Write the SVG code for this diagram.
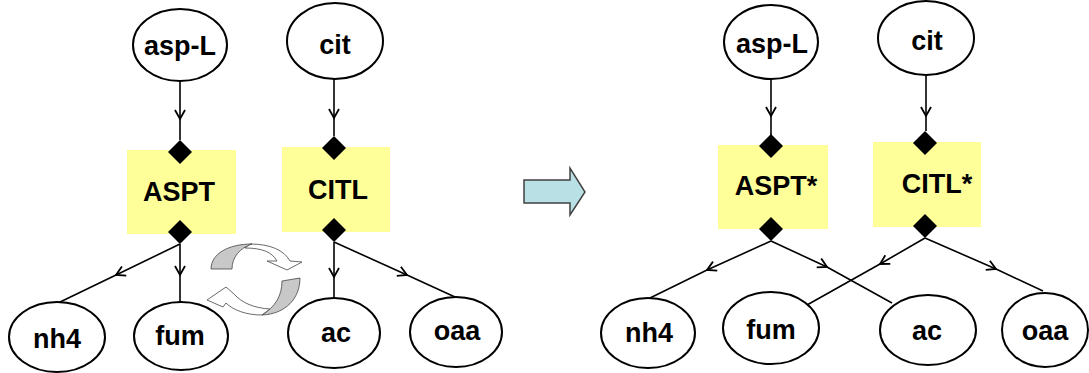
<svg xmlns="http://www.w3.org/2000/svg" width="1089" height="373" viewBox="0 0 1089 373">
<style>
.node ellipse{fill:#fff;stroke:#000;stroke-width:2}
.rx rect{fill:#ffff99;stroke:none}
.dia{fill:#000}
text{font-family:"Liberation Sans",Arial,sans-serif;font-weight:bold;font-size:27px;text-anchor:middle;fill:#000}
.edge{fill:none;stroke:#000;stroke-width:1.6;marker-mid:url(#chev)}
.rec{stroke:#444;stroke-width:0.8}
</style>
<defs>
<marker id="chev" markerUnits="userSpaceOnUse" markerWidth="14" markerHeight="14" viewBox="-12 -7 14 14" refX="0" refY="0" orient="auto">
<path d="M-9,-5 L0,0 L-9,5" fill="none" stroke="#000" stroke-width="1.8"/>
</marker>
</defs>
<rect width="1089" height="373" fill="#fff"/>

<g id="connectors">
<path class="edge" d="M180,81 L180,119 L180,140"/>
<path class="edge" d="M334,79 L334,118 L334,136"/>
<path class="edge" d="M180,244 L116,275 L58,303"/>
<path class="edge" d="M180,244 L180,275 L180,302"/>
<path class="edge" d="M334,242 L334,277 L334,298"/>
<path class="edge" d="M334,242 L407,275 L455,297"/>
<path class="edge" d="M771,79 L771,116 L771,135"/>
<path class="edge" d="M926,75 L926,116 L926,131"/>
<path class="edge" d="M771,241 L707,270 L650,298"/>
<path class="edge" d="M771,241 L827,267 L892,303"/>
<path class="edge" d="M925,238 L880,264 L807,305"/>
<path class="edge" d="M925,238 L996,269 L1043,291"/>
</g>

<g id="aspL_1" class="node"><ellipse cx="180" cy="45" rx="47" ry="36"/><text x="180" y="55">asp-L</text></g>
<g id="cit_1" class="node"><ellipse cx="335" cy="41" rx="48" ry="38"/><text x="335" y="54">cit</text></g>
<g id="ASPT" class="rx"><rect x="127" y="150" width="109" height="84"/><text x="179" y="201">ASPT</text>
<path class="dia" d="M180,140 L192,152 L180,164 L168,152 Z"/><path class="dia" d="M180,220 L192,232 L180,244 L168,232 Z"/></g>
<g id="CITL" class="rx"><rect x="282" y="147" width="108" height="85"/><text x="338" y="199">CITL</text>
<path class="dia" d="M334,136 L346,148 L334,160 L322,148 Z"/><path class="dia" d="M334,218 L346,230 L334,242 L322,230 Z"/></g>
<g id="nh4_1" class="node"><ellipse cx="57" cy="337" rx="48" ry="35"/><text x="57" y="348">nh4</text></g>
<g id="fum_1" class="node"><ellipse cx="181" cy="336" rx="47" ry="34"/><text x="180" y="345">fum</text></g>
<g id="ac_1" class="node"><ellipse cx="334" cy="333" rx="46" ry="35"/><text x="336" y="342">ac</text></g>
<g id="oaa_1" class="node"><ellipse cx="456" cy="332" rx="46" ry="35"/><text x="457" y="340">oaa</text></g>

<g id="cycle">
<path class="rec" fill="#fff" d="M250,244 C270,244 284,250 290,261 L302,262 L287,270 L267,261 L277,261 C272,252 262,248 245,248 Z"/>
<path class="rec" fill="#c8c8c8" d="M211,269 C211,254 228,244 252,244 C240,248 232,257 232,269 Z"/>
<path class="rec" fill="#fff" d="M262,315 C246,315 233,310 226,303 L223,307 L207,300 L226,287 L234,294 C242,303 254,308 270,309 Z"/>
<path class="rec" fill="#c8c8c8" d="M300,278 C300,298 286,314 262,315 C275,307 282,296 282,281 Z"/>
</g>

<g id="transform-arrow">
<path d="M524,180 L570,180 L570,168 L585,192 L570,215 L570,203 L524,203 Z" fill="#b9e1e5" stroke="#404040" stroke-width="1.5"/>
</g>

<g id="aspL_2" class="node"><ellipse cx="771" cy="42" rx="47" ry="37"/><text x="772" y="53">asp-L</text></g>
<g id="cit_2" class="node"><ellipse cx="926" cy="38" rx="48" ry="37"/><text x="927" y="50">cit</text></g>
<g id="ASPTstar" class="rx"><rect x="718" y="145" width="110" height="84"/><text x="776" y="195">ASPT*</text>
<path class="dia" d="M771,134 L783,146 L771,158 L759,146 Z"/><path class="dia" d="M771,217 L783,229 L771,241 L759,229 Z"/></g>
<g id="CITLstar" class="rx"><rect x="873" y="142" width="108" height="85"/><text x="937" y="193">CITL*</text>
<path class="dia" d="M925,131 L937,143 L925,155 L913,143 Z"/><path class="dia" d="M925,214 L937,226 L925,238 L913,226 Z"/></g>
<g id="nh4_2" class="node"><ellipse cx="648" cy="333" rx="47" ry="35"/><text x="649" y="342">nh4</text></g>
<g id="fum_2" class="node"><ellipse cx="771" cy="328" rx="48" ry="36"/><text x="771" y="339">fum</text></g>
<g id="ac_2" class="node"><ellipse cx="928" cy="330" rx="48" ry="35"/><text x="927" y="340">ac</text></g>
<g id="oaa_2" class="node"><ellipse cx="1045" cy="330" rx="43" ry="37"/><text x="1045" y="340">oaa</text></g>
</svg>
